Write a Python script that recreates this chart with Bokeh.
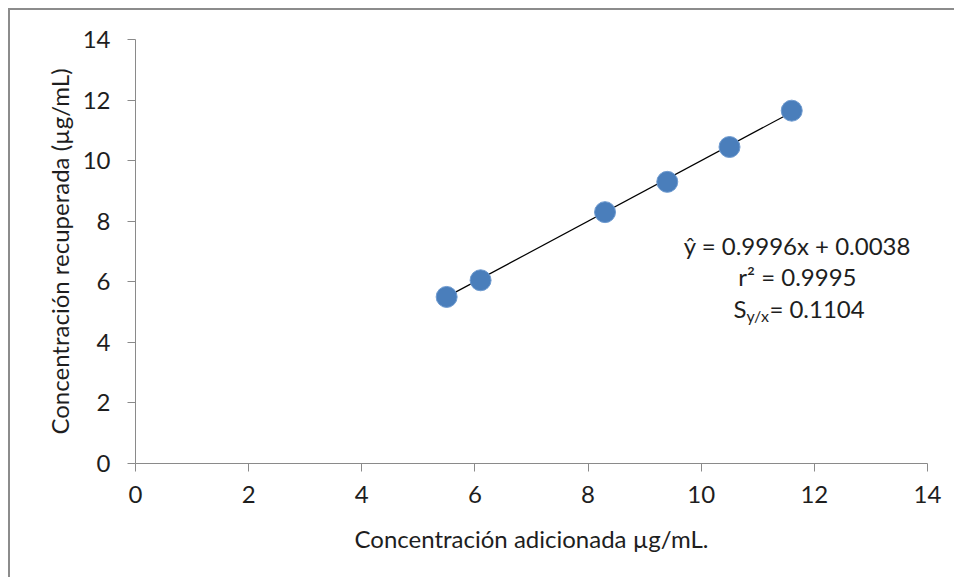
from bokeh.plotting import figure
from bokeh.models import Range1d, FixedTicker, Label
from bokeh.embed import file_html
from bokeh.resources import INLINE

# Recovery data: added vs. recovered concentration (µg/mL)
added = [5.5, 6.1, 8.3, 9.4, 10.5, 11.6]
recovered = [5.5, 6.05, 8.3, 9.3, 10.45, 11.65]

# Fitted regression parameters
slope = 0.9996
intercept = 0.0038
r2 = 0.9995
syx = 0.1104

ticks = [0, 2, 4, 6, 8, 10, 12, 14]

FONT = "Lato"
TXT = "#1e1e1e"
AX = "#8a8a8a"
FS = "24px"

p = figure(width=946, height=569, output_backend="svg", toolbar_location=None,
           x_range=Range1d(0, 14), y_range=Range1d(0, 14),
           min_border_left=125, min_border_right=29,
           min_border_top=29, min_border_bottom=116)
p.margin = (8, 0, 0, 8)
p.styles = {"border-top": "2px solid #8c8c8c", "border-left": "2px solid #8c8c8c"}

p.outline_line_color = None
p.grid.visible = False
p.background_fill_color = "white"
p.border_fill_color = "white"

for ax in (p.xaxis, p.yaxis):
    ax.ticker = FixedTicker(ticks=ticks)
    ax.axis_line_color = AX
    ax.major_tick_line_color = AX
    ax.major_tick_in = 0
    ax.major_tick_out = 8
    ax.minor_tick_line_color = None
    ax.major_label_text_font = FONT
    ax.major_label_text_font_size = FS
    ax.major_label_text_color = TXT
    ax.axis_label_text_font = FONT
    ax.axis_label_text_font_size = FS
    ax.axis_label_text_font_style = "normal"
    ax.axis_label_text_color = TXT

p.xaxis.axis_label = "Concentración adicionada µg/mL."
p.yaxis.axis_label = "Concentración recuperada (µg/mL)"
p.xaxis.major_label_standoff = 14
p.yaxis.major_label_standoff = 17
p.xaxis.axis_label_standoff = 18
p.yaxis.axis_label_standoff = 6

# Regression line over the measured range
x0, x1 = min(added), max(added)
p.line([x0, x1], [slope * x0 + intercept, slope * x1 + intercept],
       line_color="black", line_width=1.2)

p.scatter(added, recovered, size=21, fill_color="#4a7ebb",
          line_color="#6f9bd0", line_width=1)

# Regression statistics
eq_x = 11.7
common = dict(text_font=FONT, text_font_size=FS, text_color=TXT,
              text_baseline="middle")
p.add_layout(Label(x=eq_x, y=7.2, text=f"ŷ = {slope:.4f}x + {intercept:.4f}",
                   text_align="center", **common))
p.add_layout(Label(x=eq_x, y=6.17, text=f"r² = {r2:.4f}",
                   text_align="center", **common))
p.add_layout(Label(x=eq_x, y=5.12, x_offset=-64, text="S",
                   text_align="left", **common))
p.add_layout(Label(x=eq_x, y=5.12, x_offset=-51, y_offset=-7, text="y/x",
                   text_align="left", text_font=FONT, text_font_size="16px",
                   text_color=TXT, text_baseline="middle"))
p.add_layout(Label(x=eq_x, y=5.12, x_offset=-28, text=f"= {syx:.4f}",
                   text_align="left", **common))

open("out.html", "w").write(file_html(p, INLINE))
